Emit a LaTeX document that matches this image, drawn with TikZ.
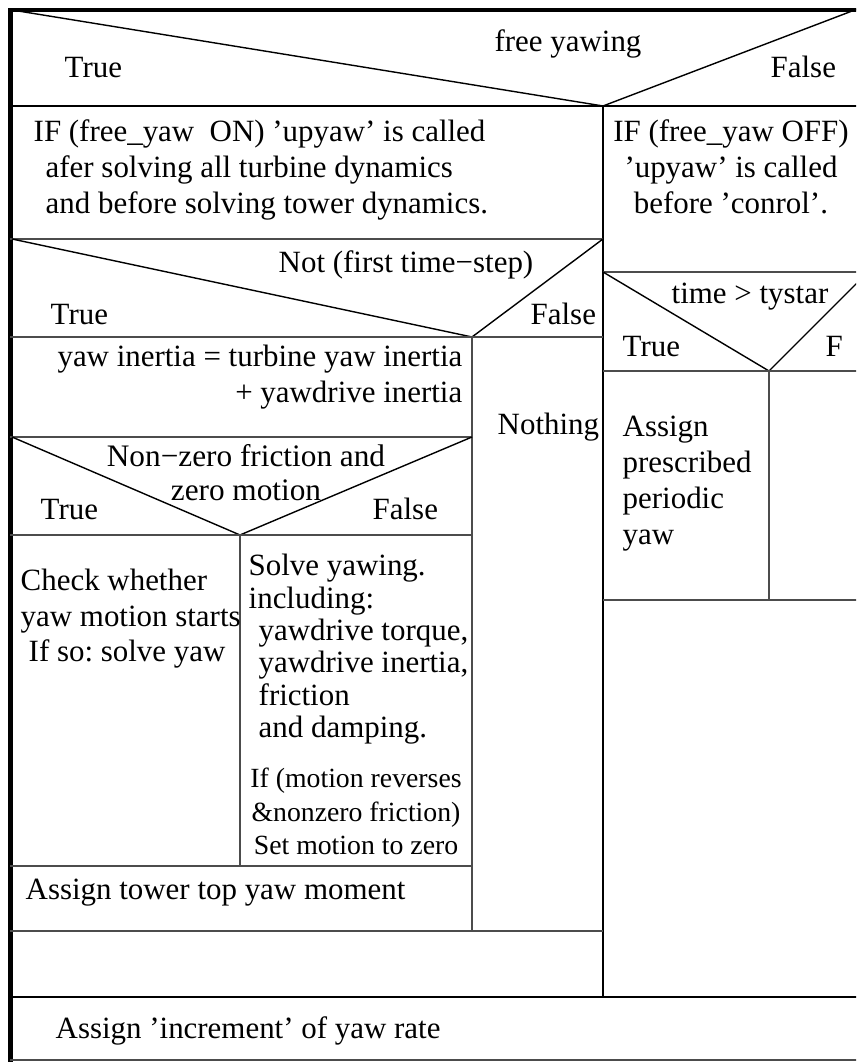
\documentclass[tikz,border=0pt]{standalone}
\usepackage{fontspec}
\setmainfont{Liberation Serif}
\frenchspacing
\begin{document}
\begin{tikzpicture}[
	frame/.style={line width=1.4pt},
	divider/.style={line width=0.8pt},
	cell/.style={line width=0.55pt,draw=black!70},
	diag/.style={line width=0.4pt},
	txt/.style={inner sep=0pt,font=\fontsize{8.8}{10.2}\selectfont},
	smalltxt/.style={inner sep=0pt,font=\fontsize{7.9}{9.4}\selectfont}
	]
		\useasboundingbox (0,0) rectangle (8.56,10.62);
		\clip (0,0) rectangle (8.56,10.62);
		
		% outer frame
		\draw[frame] (0.105,0) -- (0.105,10.52) -- (8.6,10.52);
		\draw[cell] (0.105,0.02) -- (8.6,0.02);
		
		% free yawing
		\draw[diag] (0.12,10.52) -- (6.03,9.56) -- (8.60,10.54);
		\draw[divider] (0.105,9.56) -- (8.6,9.56);
		\draw[divider] (6.03,9.56) -- (6.03,0.65);
		\node[txt,anchor=base] (yawing) at (5.68,10.10){free yawing};
		\node[txt,anchor=base west] (yawtrue) at (0.64,9.84){True};
		\node[txt,anchor=base west] (yawfalse) at (7.70,9.84){False};
		
		\node[txt,anchor=base west] (upyawon) at (0.33,9.20){\begin{tabular}[t]{@{}l@{}}IF (free\_yaw\ \ ON) 'upyaw' is called\\\hspace*{0.12cm}afer solving all turbine dynamics\\\hspace*{0.12cm}and before solving tower dynamics.\end{tabular}};
		\node[txt,anchor=base] (upyawoff) at (7.31,9.20){\begin{tabular}[t]{@{}c@{}}IF (free\_yaw OFF)\\'upyaw' is called\\before 'conrol'.\end{tabular}};
		
		% first time-step
		\draw[cell] (0.105,8.23) -- (6.03,8.23);
		\draw[diag] (0.12,8.23) -- (4.72,7.25) -- (6.03,8.23);
		\draw[cell] (0.105,7.25) -- (6.03,7.25);
		\draw[cell] (4.72,7.25) -- (4.72,1.31);
		\node[txt,anchor=base] (firststep) at (4.06,7.89){Not (first time−step)};
		\node[txt,anchor=base west] (steptrue) at (0.50,7.37){True};
		\node[txt,anchor=base west] (stepfalse) at (5.30,7.37){False};
		\node[txt,anchor=base west] (nothing) at (4.97,6.27){Nothing};
		
		% tystar
		\draw[cell] (6.03,7.90) -- (8.6,7.90);
		\draw[diag] (6.03,7.90) -- (7.69,6.91) -- (8.68,7.90);
		\draw[cell] (6.03,6.91) -- (8.6,6.91);
		\draw[cell] (7.69,6.91) -- (7.69,4.62);
		\draw[cell] (6.03,4.62) -- (8.6,4.62);
		\node[txt,anchor=base] (tystar) at (7.50,7.58){time > tystar};
		\node[txt,anchor=base west] (startrue) at (6.22,7.05){True};
		\node[txt,anchor=base west] (starfalse) at (8.25,7.05){F};
		\node[txt,anchor=base west] (periodic) at (6.22,6.25){\begin{tabular}[t]{@{}l@{}}Assign\\prescribed\\periodic\\yaw\end{tabular}};
		
		% inertia
		\node[txt,anchor=base east] (inertia) at (4.63,6.95){\begin{tabular}[t]{@{}r@{}}yaw inertia\ =\ turbine yaw inertia\\+\ yawdrive inertia\end{tabular}};
		
		% friction
		\draw[cell] (0.105,6.25) -- (4.72,6.25);
		\draw[diag] (0.12,6.25) -- (2.40,5.27) -- (4.72,6.25);
		\draw[cell] (0.105,5.27) -- (4.72,5.27);
		\draw[cell] (2.40,5.27) -- (2.40,1.96);
		\node[txt,anchor=base,font=\fontsize{8.9}{9.4}\selectfont] (friction) at (2.46,5.95){\begin{tabular}[t]{@{}c@{}}Non−zero friction and\\zero motion\end{tabular}};
		\node[txt,anchor=base west] (fricttrue) at (0.40,5.42){True};
		\node[txt,anchor=base west] (frictfalse) at (3.72,5.42){False};
		
		\node[txt,anchor=base west,font=\fontsize{8.8}{10}\selectfont] (motionstart) at (0.20,4.71){\begin{tabular}[t]{@{}l@{}}Check whether\\yaw motion starts\\\hspace*{0.08cm}If so: solve yaw\end{tabular}};
		\node[txt,anchor=base west,font=\fontsize{8.8}{9.2}\selectfont] (solveyaw) at (2.48,4.86){\begin{tabular}[t]{@{}l@{}}Solve yawing.\\including:\\\hspace*{0.1cm}yawdrive torque,\\\hspace*{0.1cm}yawdrive inertia,\\\hspace*{0.1cm}friction\\\hspace*{0.1cm}and damping.\end{tabular}};
		\node[smalltxt,anchor=base] (reverse) at (3.56,2.74){\begin{tabular}[t]{@{}c@{}}If (motion reverses\\\&nonzero friction)\\Set motion to zero\end{tabular}};
		
		% tower top
		\draw[cell] (0.105,1.96) -- (4.72,1.96);
		\draw[cell] (0.105,1.31) -- (6.03,1.31);
		\node[txt,anchor=base west] (towertop) at (0.25,1.62){Assign tower top yaw moment};
		
		% increment
		\draw[divider] (0.105,0.65) -- (8.6,0.65);
		\node[txt,anchor=base west] (increment) at (0.55,0.23){Assign 'increment' of yaw rate};
	\end{tikzpicture}
\end{document}
